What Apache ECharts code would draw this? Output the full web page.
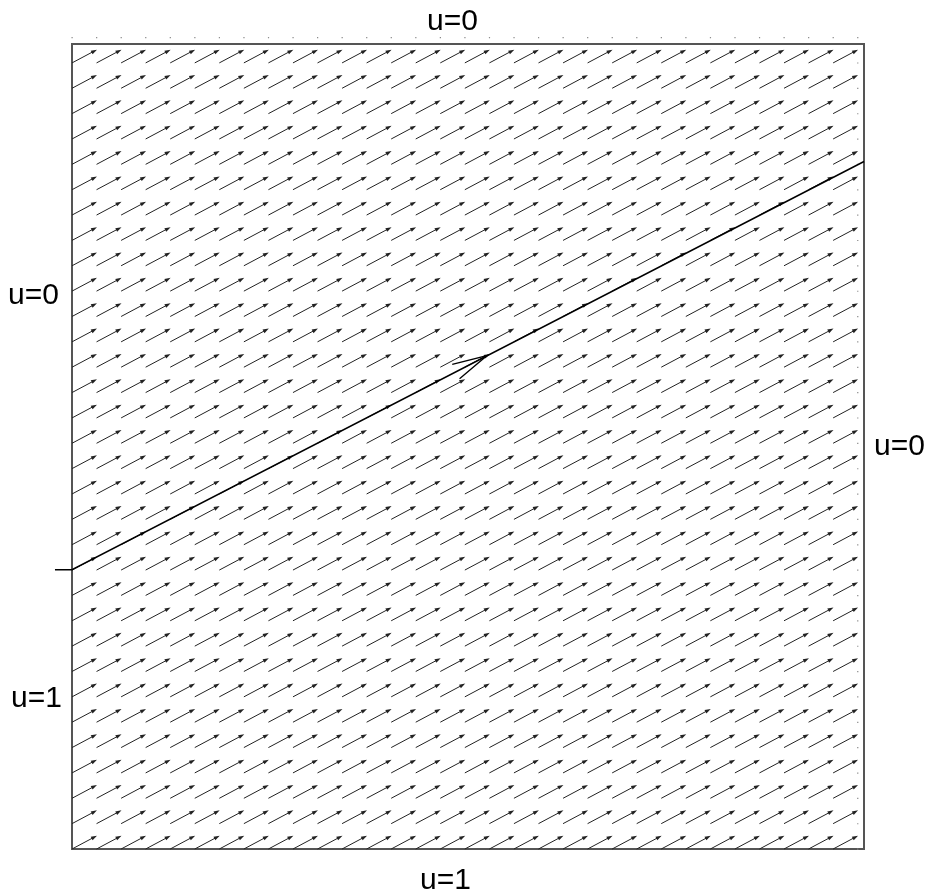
<!DOCTYPE html>
<html><head><meta charset="utf-8">
<script src="https://cdn.jsdelivr.net/npm/echarts@6/dist/echarts.min.js"></script>
<style>html,body{margin:0;padding:0;background:#fff}#c{width:930px;height:895px}</style>
</head><body><div id="c"></div>
<script>
// grid positions of the direction field (data units)
const gridX = [0,0.031,0.062,0.093,0.124,0.155,0.186,0.217,0.248,0.279,0.310,0.341,0.372,0.403,0.434,0.465,0.496,0.527,0.558,0.589,0.620,0.651,0.682,0.713,0.744,0.775,0.806,0.837,0.868,0.899,0.930,0.961,0.992];
const gridY = [0,0.0315,0.063,0.0945,0.126,0.1575,0.189,0.2205,0.252,0.2835,0.315,0.3465,0.378,0.4095,0.441,0.4725,0.504,0.5355,0.567,0.5985,0.630,0.6615,0.693,0.7245,0.756,0.7875,0.819,0.8505,0.882,0.9135,0.945,0.9765,1.008];
// constant field vector (data units)
const fieldDX = 0.0315;
const fieldDY = 0.0165;
// characteristic line
const charX = [-0.0215, 0, 1.0];
const charY = [0.347, 0.347, 0.854];
// arrowhead on the characteristic
const headX = [0.524];
const headY = [0.613];
// boundary labels
const labels = ['u=0','u=0','u=0','u=1','u=1'];

const fieldData = [];
for (let i = 0; i < gridX.length; i++) {
  for (let j = 0; j < gridY.length; j++) {
    const isDot = (i === gridX.length - 1 || j === gridY.length - 1) ? 1 : 0;
    fieldData.push([gridX[i], gridY[j], isDot]);
  }
}
const lineData = charX.map((x, k) => [x, charY[k]]);
const headData = headX.map((x, k) => [x, headY[k]]);
const FONT = '30px "Liberation Sans", Arial';

const chart = echarts.init(document.getElementById('c'));
chart.setOption({
  animation: false,
  grid: {left: 72, right: 66, top: 44, bottom: 46, show: true, borderColor: '#555', borderWidth: 2, backgroundColor: 'transparent'},
  xAxis: {type: 'value', min: 0, max: 1, show: false},
  yAxis: {type: 'value', min: 0, max: 1, show: false},
  graphic: [
    {type: 'text', left: 427, top: 7, style: {text: labels[0], font: FONT, fill: '#000'}},
    {type: 'text', left: 8, top: 281, style: {text: labels[1], font: FONT, fill: '#000'}},
    {type: 'text', left: 874, top: 432, style: {text: labels[2], font: FONT, fill: '#000'}},
    {type: 'text', left: 11, top: 684, style: {text: labels[3], font: FONT, fill: '#000'}},
    {type: 'text', left: 420, top: 866, style: {text: labels[4], font: FONT, fill: '#000'}}
  ],
  series: [
    {
      type: 'custom', clip: false, silent: true,
      data: fieldData,
      renderItem: function (params, api) {
        const x = api.value(0), y = api.value(1), dot = api.value(2);
        const p0 = api.coord([x, y]);
        if (dot) {
          return {type: 'rect', shape: {x: p0[0] - 0.5, y: p0[1] - 0.5, width: 1.2, height: 1.2}, style: {fill: '#888'}};
        }
        const p1 = api.coord([x + fieldDX, y + fieldDY]);
        const dx = p1[0] - p0[0], dy = p1[1] - p0[1];
        const L = Math.sqrt(dx * dx + dy * dy);
        const ux = dx / L, uy = dy / L;
        const hl = 6, hw = 2;
        const bx = p1[0] - ux * hl, by = p1[1] - uy * hl;
        return {
          type: 'group',
          children: [
            {type: 'line', shape: {x1: p0[0], y1: p0[1], x2: bx + ux, y2: by + uy}, style: {stroke: '#222', lineWidth: 1}},
            {type: 'polygon', shape: {points: [[p1[0], p1[1]], [bx - uy * hw, by + ux * hw], [bx + uy * hw, by - ux * hw]]}, style: {fill: '#222'}}
          ]
        };
      }
    },
    {
      type: 'custom', clip: false, silent: true,
      data: headData,
      renderItem: function (params, api) {
        const pts = lineData.map(p => api.coord(p));
        const tip = api.coord([api.value(0), api.value(1)]);
        const p0 = pts[1], p1 = pts[2];
        const dx = p1[0] - p0[0], dy = p1[1] - p0[1];
        const L = Math.sqrt(dx * dx + dy * dy);
        const ux = dx / L, uy = dy / L;
        const hl = 35, hw = 8;
        const bx = tip[0] - ux * hl, by = tip[1] - uy * hl;
        return {
          type: 'group',
          children: [
            {type: 'polyline', shape: {points: pts}, style: {stroke: '#000', lineWidth: 1.5, fill: 'none'}},
            {type: 'polyline', shape: {points: [[bx + uy * hw, by - ux * hw], [tip[0], tip[1]], [bx - uy * hw, by + ux * hw]]},
             style: {stroke: '#000', lineWidth: 1.3, fill: 'none'}}
          ]
        };
      }
    }
  ]
});
</script>
</body></html>
